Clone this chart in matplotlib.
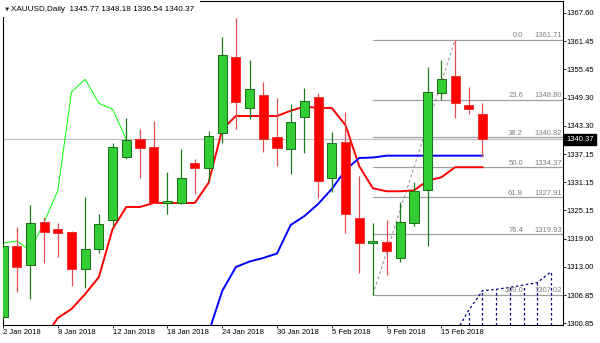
import matplotlib
matplotlib.use('Agg')
import matplotlib.pyplot as plt
import matplotlib.transforms as mtransforms
from matplotlib.patches import Rectangle
import numpy as np

plt.rcParams['font.family'] = ['Liberation Sans', 'DejaVu Sans']

# ---------------- data ----------------
tick_bars = [0, 4, 8, 12, 16, 20, 24, 28, 32]
tick_labels = ['2 Jan 2018', '8 Jan 2018', '12 Jan 2018', '18 Jan 2018', '24 Jan 2018',
               '30 Jan 2018', '5 Feb 2018', '9 Feb 2018', '15 Feb 2018']

opens = [1302.27, 1317.52, 1313.31, 1322.54, 1321.04, 1320.35, 1312.45, 1316.81, 1323.04, 1336.63,
         1340.43, 1338.78, 1326.62, 1326.62, 1335.21, 1334.14, 1341.66, 1357.98, 1347.15, 1349.88,
         1340.93, 1338.22, 1345.22, 1349.39, 1331.99, 1339.85, 1323.40, 1318.16, 1318.37, 1314.94,
         1322.46, 1329.48, 1350.25, 1354.03, 1347.80, 1345.77]
highs = [1317.88, 1321.60, 1326.26, 1323.75, 1322.46, 1320.57, 1327.91, 1324.33, 1339.51, 1345.01,
         1342.52, 1344.30, 1333.28, 1338.28, 1336.14, 1342.22, 1362.40, 1366.36, 1357.40, 1352.61,
         1349.30, 1347.89, 1351.32, 1350.38, 1341.94, 1346.30, 1332.49, 1322.46, 1323.04, 1326.84,
         1331.26, 1355.96, 1357.40, 1361.71, 1351.67, 1348.18]
lows = [1301.77, 1307.64, 1306.01, 1313.87, 1315.03, 1308.86, 1308.37, 1315.88, 1321.75, 1336.14,
        1332.12, 1326.62, 1324.33, 1326.40, 1328.62, 1331.48, 1339.64, 1342.52, 1344.73, 1337.70,
        1334.63, 1332.85, 1337.36, 1327.70, 1329.11, 1320.31, 1311.59, 1307.02, 1311.22, 1314.08,
        1321.75, 1317.45, 1348.81, 1344.88, 1345.80, 1336.54]
closes = [1317.45, 1313.01, 1322.33, 1320.46, 1320.31, 1312.58, 1316.74, 1322.18, 1338.65, 1340.22,
          1338.43, 1326.75, 1327.12, 1331.99, 1334.14, 1341.14, 1358.47, 1348.32, 1351.11, 1340.37,
          1338.56, 1344.02, 1348.66, 1331.41, 1339.51, 1324.26, 1318.10, 1318.53, 1316.44, 1322.54,
          1329.33, 1350.53, 1353.26, 1348.10, 1346.81, 1340.37]

nan = float('nan')
tenkan = [nan, nan, nan, 1297.69, 1301.99, 1303.92, 1307.14, 1310.79, 1321.10, 1325.83,
          1325.83, 1326.69, 1326.69, 1326.69, 1326.69, 1330.98, 1342.50, 1345.37, 1345.37, 1345.37,
          1345.37, 1346.50, 1347.40, 1347.10, 1347.10, 1343.40, 1334.60, 1329.85, 1329.20, 1329.20,
          1329.40, 1331.49, 1332.21, 1334.37, 1334.37, 1334.37]
kijun = [nan] * 15 + [1298.77, 1307.79, 1312.94, 1314.12, 1314.88, 1315.84, 1321.96, 1323.89,
                      1326.47, 1329.69, 1333.77, 1336.35, 1336.46, 1336.85, 1336.85, 1336.85,
                      1336.85, 1336.85, 1336.85, 1336.85, 1336.85]
chikou_shift = 26

span_bars = [33, 34, 35, 36, 37, 38, 39, 40]
span_a = [1298.55, 1303.71, 1307.85, 1308.15, 1308.58, 1309.07, 1309.57, 1311.93]

fib_levels = ['0.0', '23.6', '38.2', '50.0', '61.8', '76.4', '100.0']
fib_prices = [1361.71, 1348.80, 1340.82, 1334.37, 1327.91, 1319.93, 1307.02]
fib_start_bar = 27
fib_end_bar = 33

yticks = [1367.60, 1361.45, 1355.45, 1349.30, 1343.30, 1337.15, 1331.15, 1325.15,
          1319.00, 1313.00, 1306.85, 1300.85]
last_price = 1340.37
header = 'XAUUSD,Daily  1345.77 1348.18 1336.54 1340.37'

# ---------------- figure ----------------
W, H = 600, 343
fig = plt.figure(figsize=(W / 100, H / 100), dpi=100)
ax = fig.add_axes([2.7 / W, 18.5 / H, 560.3 / W, 323.5 / H])
ax.set_xlim(-0.022, 40.876)
ax.set_ylim(1300.59, 1370.07)

FS = 5.5
n = len(opens)
x = np.arange(n)

# current price line
ax.axhline(last_price, color='#c0c0c0', lw=0.9, zorder=1)

# fibonacci
for lvl, pr in zip(fib_levels, fib_prices):
    ax.plot([fib_start_bar, 41], [pr, pr], color='#a0a0a0', lw=0.9, zorder=1.2)
trans = mtransforms.blended_transform_factory(ax.transAxes, ax.transData)
trans_off = mtransforms.offset_copy(trans, fig=fig, x=0, y=1.9, units='points')
for lvl, pr in zip(fib_levels, fib_prices):
    ax.text((523 - 2.7) / 560.3, pr, lvl, transform=trans_off, ha='right', va='baseline',
            fontsize=FS, color='#808080', zorder=2)
    ax.text((562 - 2.7) / 560.3, pr, '%.2f' % pr, transform=trans_off, ha='right', va='baseline',
            fontsize=FS, color='#808080', zorder=2)
ax.plot([fib_start_bar, fib_end_bar], [lows[fib_start_bar], highs[fib_end_bar]],
        color='#909090', lw=0.7, ls=(0, (3, 2.5)), zorder=1.3)

# senkou span / cloud hatch
ax.plot(span_bars, span_a, color='#000080', lw=0.9, ls=(0, (2, 2)), zorder=1.5)
ybot = ax.get_ylim()[0]
ax.vlines(span_bars[1:], ybot, span_a[1:], color='#000080', lw=0.9, linestyles=(0, (2, 2)), zorder=1.5)

# chikou
chikou = closes[chikou_shift:]
ax.plot(x[:len(chikou)], chikou, color='#00ff00', lw=0.7, zorder=2)

# tenkan / kijun
ax.plot(x, tenkan, color='#ff0000', lw=1.4, zorder=2.2)
ax.plot(x, kijun, color='#0000ff', lw=1.4, zorder=2.2)

# candles
bw = 0.66
for i in range(n):
    o, h, l, c = opens[i], highs[i], lows[i], closes[i]
    bull = c >= o
    wick_c = '#1f7a1f' if bull else '#e05050'
    fill_c = '#32cd32' if bull else '#ff0000'
    edge_c = '#1a6e1a' if bull else '#f03030'
    ax.vlines(i, l, h, color=wick_c, lw=0.9, zorder=3)
    ax.bar(i, abs(c - o), bottom=min(o, c), width=bw, color=fill_c, edgecolor=edge_c,
           linewidth=0.7, zorder=3.5)

# axes styling
for s in ax.spines.values():
    s.set_linewidth(0.8)
    s.set_color('black')
ax.yaxis.tick_right()
ax.set_yticks(yticks)
ax.set_yticklabels(['%.2f' % v for v in yticks])
ax.set_xticks(tick_bars)
ax.set_xticklabels(tick_labels)
for lbl in ax.get_xticklabels():
    lbl.set_ha('left')
ax.tick_params(axis='y', direction='out', length=2.2, width=0.6, pad=0.6, labelsize=FS,
               colors='black')
ax.tick_params(axis='x', direction='out', length=2.2, width=0.6, pad=1.2, labelsize=FS,
               colors='black')

# last price label
tl = mtransforms.blended_transform_factory(ax.transAxes, ax.transData)
ax.text(1.0 + 3.2 / 560.3, last_price, '%.2f' % last_price, transform=tl, ha='left', va='center',
        fontsize=FS, color='white', zorder=10, clip_on=False,
        bbox=dict(boxstyle='square,pad=0.25', fc='black', ec='black'))

# header
fig.patches.append(Rectangle((0, 1 - 16.5 / H), 200 / W, 16.5 / H, transform=fig.transFigure,
                             facecolor='white', edgecolor='none', zorder=5))
fig.text(4.0 / W, 1 - 9.8 / H, '\u25bc', fontsize=4.6, color='black', ha='left', va='center', zorder=6)
fig.text(10.5 / W, 1 - 9.3 / H, header, fontsize=5.9, color='black', ha='left', va='center', zorder=6)

fig.savefig('out.png', dpi=100)
